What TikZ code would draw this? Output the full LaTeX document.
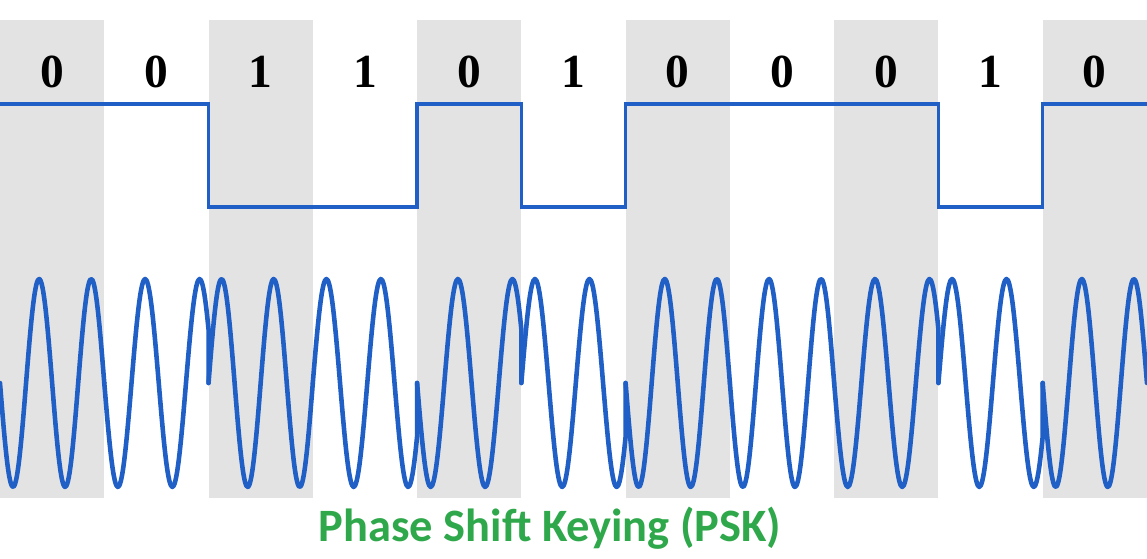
\documentclass[tikz,border=0pt]{standalone}
\usepackage{fontspec}
\setmainfont{Liberation Serif}
\newfontfamily\titlefont{Carlito}
\usepackage{tikz}
\usetikzlibrary{calc}

\definecolor{sigblue}{HTML}{1F5FC6}
\definecolor{pskgreen}{HTML}{2EA84A}

\begin{document}
\begin{tikzpicture}[
  x=0.01cm, y=-0.01cm,
  band/.style={fill=black!11,draw=none},
  bitlabel/.style={font=\fontsize{13.5}{14}\selectfont\bfseries,inner sep=0pt},
  sigline/.style={draw=sigblue,line width=1pt,line join=miter},
  wave/.style={draw=sigblue,line width=1.3pt,line cap=round,line join=round},
  title/.style={font=\titlefont\fontsize{13.2}{15}\selectfont\bfseries,
                text=pskgreen,inner sep=0pt}
]
\useasboundingbox (0,0) rectangle (1147,559);
\fill[white] (0,0) rectangle (1147,559);

\def\bw{104.27}
\foreach \k in {0,2,...,10}
  \fill[band] ({\k*\bw},20) rectangle ({(\k+1)*\bw},498);

\foreach \b [count=\i from 0] in {0,0,1,1,0,1,0,0,0,1,0}
  \node[bitlabel] (bit\i) at ({(\i+0.5)*\bw},72) {\b};

\draw[sigline] (0,104) -- (208.5,104) -- (208.5,207) -- (417.1,207)
  -- (417.1,104) -- (521.4,104) -- (521.4,207) -- (625.6,207)
  -- (625.6,104) -- (938.5,104) -- (938.5,207) -- (1042.7,207)
  -- (1042.7,104) -- (1147,104);

\foreach \b/\r [count=\k from 0] in
  {0/0,0/1,1/0,1/1,0/1,1/1,0/0,0/0,0/1,1/1,0/0} {
  \pgfmathsetmacro\xa{\k*\bw}
  \pgfmathsetmacro\xb{(\k+1)*\bw}
  \pgfmathsetmacro\sg{1-2*\b}
  \pgfmathsetmacro\fq{720/(\bw+\r*4.7)}
  \draw[wave] plot[domain=\xa:\xb,samples=70,smooth]
    (\x,{383+\sg*104*sin(\fq*(\x-\xa))}) -- (\xb,383);
}

\node[title,anchor=base] (ttl) at (550,542) {Phase Shift Keying (PSK)};
\end{tikzpicture}
\end{document}
